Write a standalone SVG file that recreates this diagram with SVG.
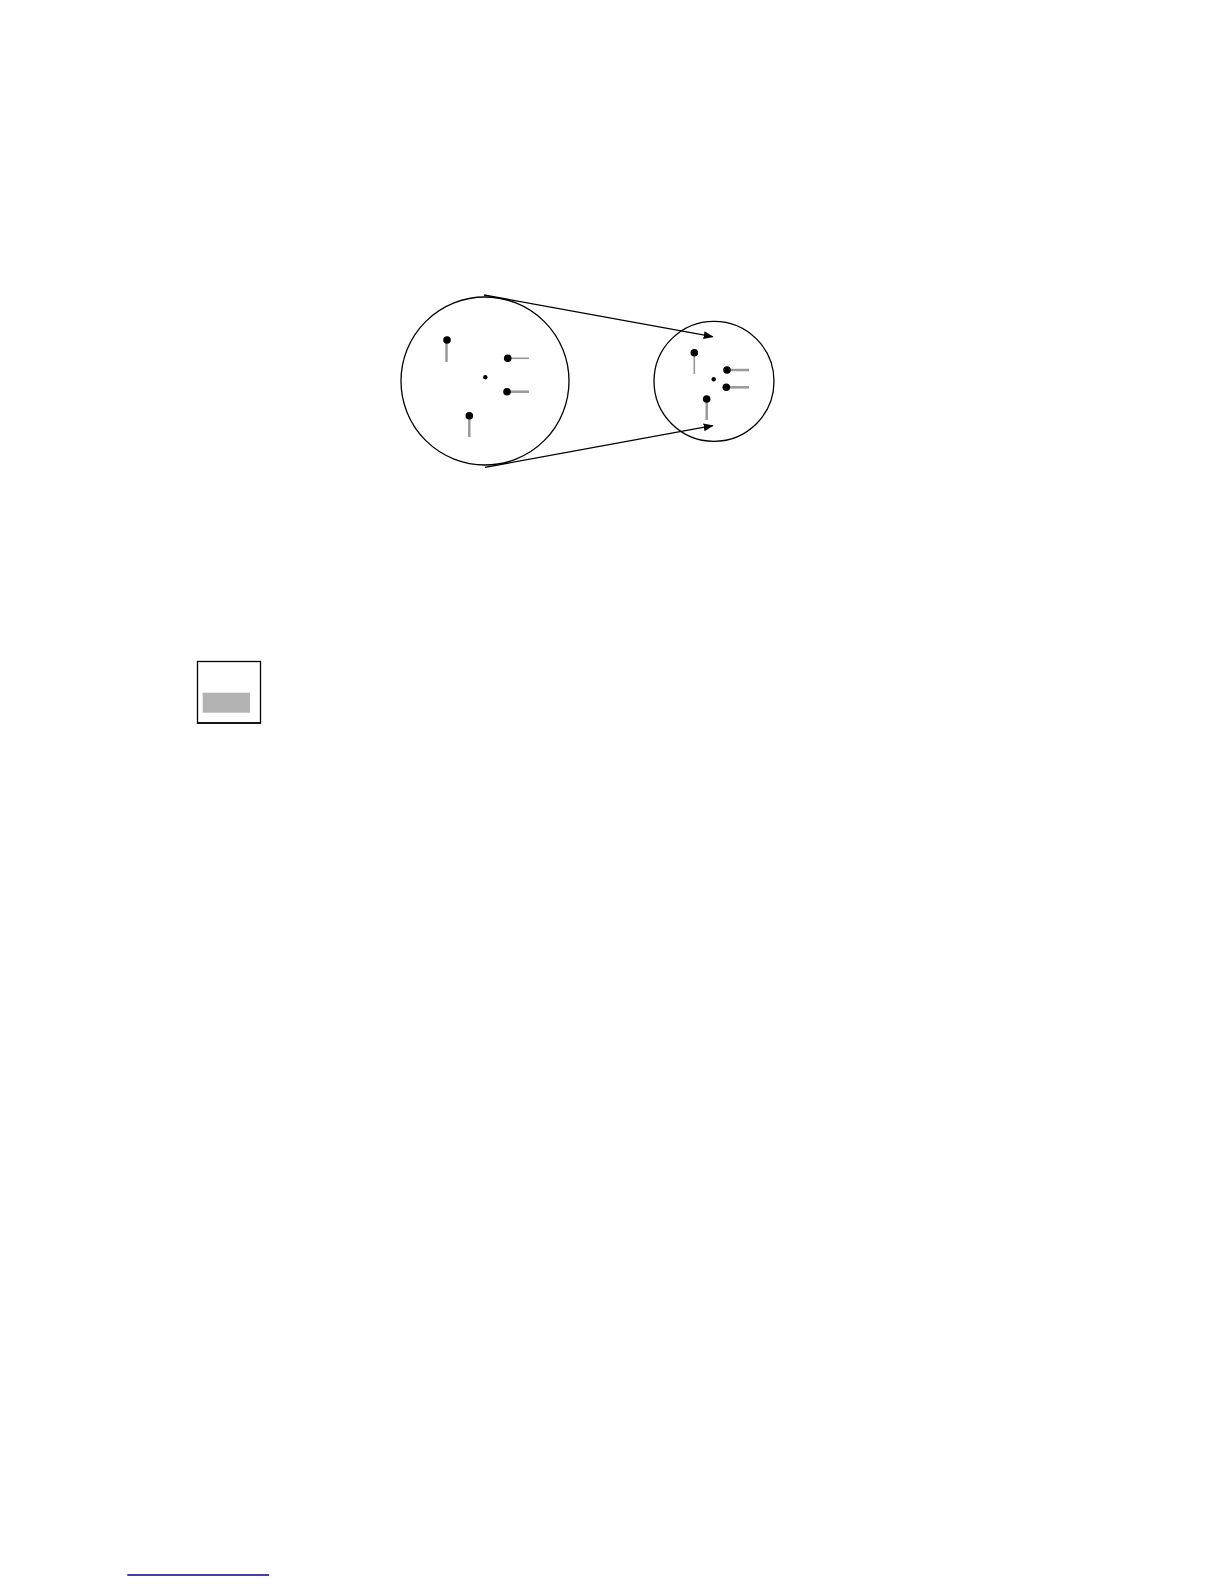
<svg xmlns="http://www.w3.org/2000/svg" width="1224" height="1584" viewBox="0 0 1224 1584">
<defs>
<marker id="ah" markerWidth="10" markerHeight="8" refX="9" refY="4" orient="auto" markerUnits="userSpaceOnUse">
<path d="M0,0 L10,4 L0,8 Z" fill="#000"/>
</marker>
<style>
.circ{fill:none;stroke:#000;stroke-width:1.3}
.dot{fill:#000}
.pin{stroke:#999;stroke-width:2.5}
.pinthin{stroke:#999;stroke-width:1.6}
.conn{stroke:#000;stroke-width:1.3;fill:none}
</style>
</defs>
<rect width="1224" height="1584" fill="#fff"/>
<g id="large-circle">
<circle class="circ" cx="485" cy="381" r="84"/>
<line class="pin" x1="446.5" y1="342" x2="446.5" y2="362"/>
<circle class="dot" cx="447" cy="340" r="3.8"/>
<line class="pinthin" x1="508" y1="358.3" x2="529" y2="358.3"/>
<circle class="dot" cx="507.7" cy="358.3" r="3.8"/>
<circle class="dot" cx="485.3" cy="377.3" r="2.2"/>
<line class="pin" x1="508" y1="391.7" x2="529" y2="391.7"/>
<circle class="dot" cx="507" cy="391.7" r="3.8"/>
<line class="pin" x1="469.3" y1="416" x2="469.3" y2="437"/>
<circle class="dot" cx="469.3" cy="415.7" r="3.8"/>
</g>
<g id="small-circle">
<circle class="circ" cx="714" cy="381.3" r="60"/>
<line class="pinthin" x1="694.3" y1="353" x2="694.3" y2="374"/>
<circle class="dot" cx="694.3" cy="352.7" r="3.8"/>
<line class="pin" x1="727" y1="370" x2="749" y2="370"/>
<circle class="dot" cx="727" cy="370" r="3.8"/>
<circle class="dot" cx="713.7" cy="379.3" r="2.2"/>
<line class="pin" x1="726.3" y1="387.3" x2="749" y2="387.3"/>
<circle class="dot" cx="726.3" cy="387.3" r="3.8"/>
<line class="pin" x1="706.7" y1="400" x2="706.7" y2="420"/>
<circle class="dot" cx="706.7" cy="399" r="3.8"/>
</g>
<g id="connectors">
<line class="conn" x1="484" y1="295" x2="712.7" y2="336.7" marker-end="url(#ah)"/>
<line class="conn" x1="485" y1="467.3" x2="712.7" y2="425.7" marker-end="url(#ah)"/>
</g>
<g id="legend-box">
<rect x="197.5" y="661.5" width="63" height="61.5" fill="#fff" stroke="#000" stroke-width="1.3"/>
<line x1="197" y1="723" x2="261" y2="723" stroke="#000" stroke-width="1.5"/>
<rect x="202.7" y="692.7" width="47.3" height="20" fill="#b3b3b3"/>
</g>
<line x1="127.3" y1="1575" x2="269" y2="1575" stroke="#000099" stroke-width="1.5"/>
</svg>
